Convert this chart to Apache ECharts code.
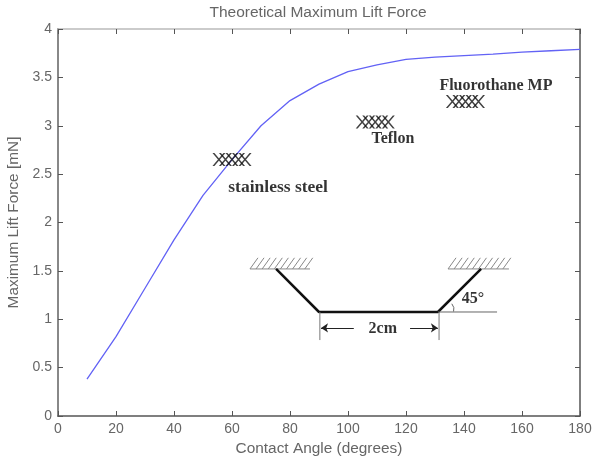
<!DOCTYPE html>
<html><head><meta charset="utf-8">
<style>html,body{margin:0;padding:0;background:#fff}#c{width:592px;height:457px;filter:blur(0.45px)}</style>
<script src="https://cdn.jsdelivr.net/npm/echarts@6/dist/echarts.min.js"></script>
</head><body><div id="c"></div>
<script>
const curveAngles=[10,20,30,40,50,60,70,80,90,100,110,120,130,140,150,160,170,180];
const curveForce=[0.38,0.82,1.32,1.82,2.28,2.65,3.0,3.26,3.43,3.56,3.63,3.685,3.71,3.725,3.74,3.76,3.775,3.79];
const steelX=[55.5,57.75,60,62.25,64.5];
const steelY=2.65;
const teflonX=[104.9,107.15,109.4,111.65,113.9];
const teflonY=3.04;
const fluoroX=[136,138.25,140.5,142.75,145];
const fluoroY=3.25;
const surfaceLeftHatch=[66.2,68.3,70.4,72.5,74.6,76.7,78.8,80.9,83,85.1];
const surfaceRightHatch=[134.5,136.6,138.7,140.8,142.9,145,147.1,149.2,151.3,153.4];
const surfaceLeft=[[66.2,1.52],[86.9,1.52]];
const surfaceRight=[[134.5,1.52],[155.5,1.52]];
const channel=[[75.2,1.52],[90,1.075],[131,1.075],[145.9,1.52]];
const reference=[[131,1.075],[151.4,1.075]];
const dimLeft=[[90.3,1.075],[90.3,0.785]];
const dimRight=[[131.4,1.075],[131.4,0.785]];
const arc=[[135.8,1.16],[136.5,1.12],[136.4,1.08]];
const arrows=[[[102,0.91],[90.7,0.91]],[[121.4,0.91],[131,0.91]]];
const notes=[["stainless steel",75.9,2.36,17.5],["Teflon",115.5,2.86,16],["Fluorothane MP",151,3.41,16],["45°",143.1,1.21,16],["2cm",112,0.9,16]];
const txt='#666';
const hatchSeries=a=>a.map(x=>({type:'line',silent:true,symbol:'none',data:[[x,1.52],[x+2.75,1.635]],lineStyle:{color:'#888',width:1},z:3}));
const seg=(d,c,w)=>({type:'line',silent:true,symbol:'none',data:d,lineStyle:{color:c,width:w},z:4});
const xmark='path://M0 0L1.5 0L10 10L8.5 10Z M8.5 0L10 0L1.5 10L0 10Z';
const marks=(xs,y)=>({type:'scatter',silent:true,symbol:xmark,symbolSize:[13,13],data:xs.map(x=>[x,y]),itemStyle:{color:'#111'},z:6});
const axisStyle=(c,w)=>({axisLine:{show:true,onZero:false,lineStyle:{color:c,width:w}},axisTick:{show:true,inside:true,length:5,lineStyle:{color:'#555',width:1}},splitLine:{show:false}});
const tickFont={color:txt,fontFamily:'"Liberation Sans"',fontSize:14};
const nameFont={color:txt,fontFamily:'"Liberation Sans"',fontSize:15.4};
const option={
 animation:false,backgroundColor:'#fff',
 title:{text:'Theoretical Maximum Lift Force',left:313,top:0,textAlign:'center',textStyle:{color:txt,fontFamily:'"Liberation Sans"',fontSize:15.5,fontWeight:'normal'}},
 grid:{left:58,right:12,top:29,bottom:41,outerBoundsMode:'none'},
 xAxis:[{...axisStyle('#555',1.5),type:'value',min:0,max:180,interval:20,position:'bottom',name:'Contact Angle (degrees)',nameLocation:'middle',nameGap:22,nameTextStyle:nameFont,axisLabel:{...tickFont,margin:6}},
        {...axisStyle('#bbb',1.5),type:'value',min:0,max:180,interval:20,position:'top',axisLabel:{show:false}}],
 yAxis:[{...axisStyle('#888',2),type:'value',min:0,max:4,interval:0.5,position:'left',name:'Maximum Lift Force [mN]',nameLocation:'middle',nameGap:37,nameTextStyle:nameFont,axisLabel:{...tickFont,margin:6}},
        {...axisStyle('#555',1.5),type:'value',min:0,max:4,interval:0.5,position:'right',axisLabel:{show:false}}],
 series:[
  {type:'line',name:'Maximum Lift Force',symbol:'none',data:curveAngles.map((x,i)=>[x,curveForce[i]]),lineStyle:{color:'#6262f5',width:1.3},z:5},
  marks(steelX,steelY),marks(teflonX,teflonY),marks(fluoroX,fluoroY),
  seg(surfaceLeft,'#888',1),seg(surfaceRight,'#888',1),...hatchSeries(surfaceLeftHatch),...hatchSeries(surfaceRightHatch),
  seg(channel,'#111',2.5),seg(reference,'#666',1),seg(dimLeft,'#777',1),seg(dimRight,'#777',1),seg(arc,'#666',1),
  {type:'line',silent:true,symbol:'none',data:[],markLine:{silent:true,symbol:['none','arrow'],symbolSize:7,label:{show:false},lineStyle:{color:'#222',width:1,type:'solid'},
     data:arrows.map(a=>[{coord:a[0]},{coord:a[1]}])}},
  {type:'scatter',silent:true,symbolSize:0,data:notes.map(n=>({value:[n[1],n[2]],label:{show:true,position:'inside',formatter:n[0],color:'#000',fontFamily:'"Liberation Serif"',fontWeight:'bold',fontSize:n[3]}})),z:7}
 ]
};
echarts.init(document.getElementById('c'),null,{renderer:'canvas'}).setOption(option);
</script></body></html>
